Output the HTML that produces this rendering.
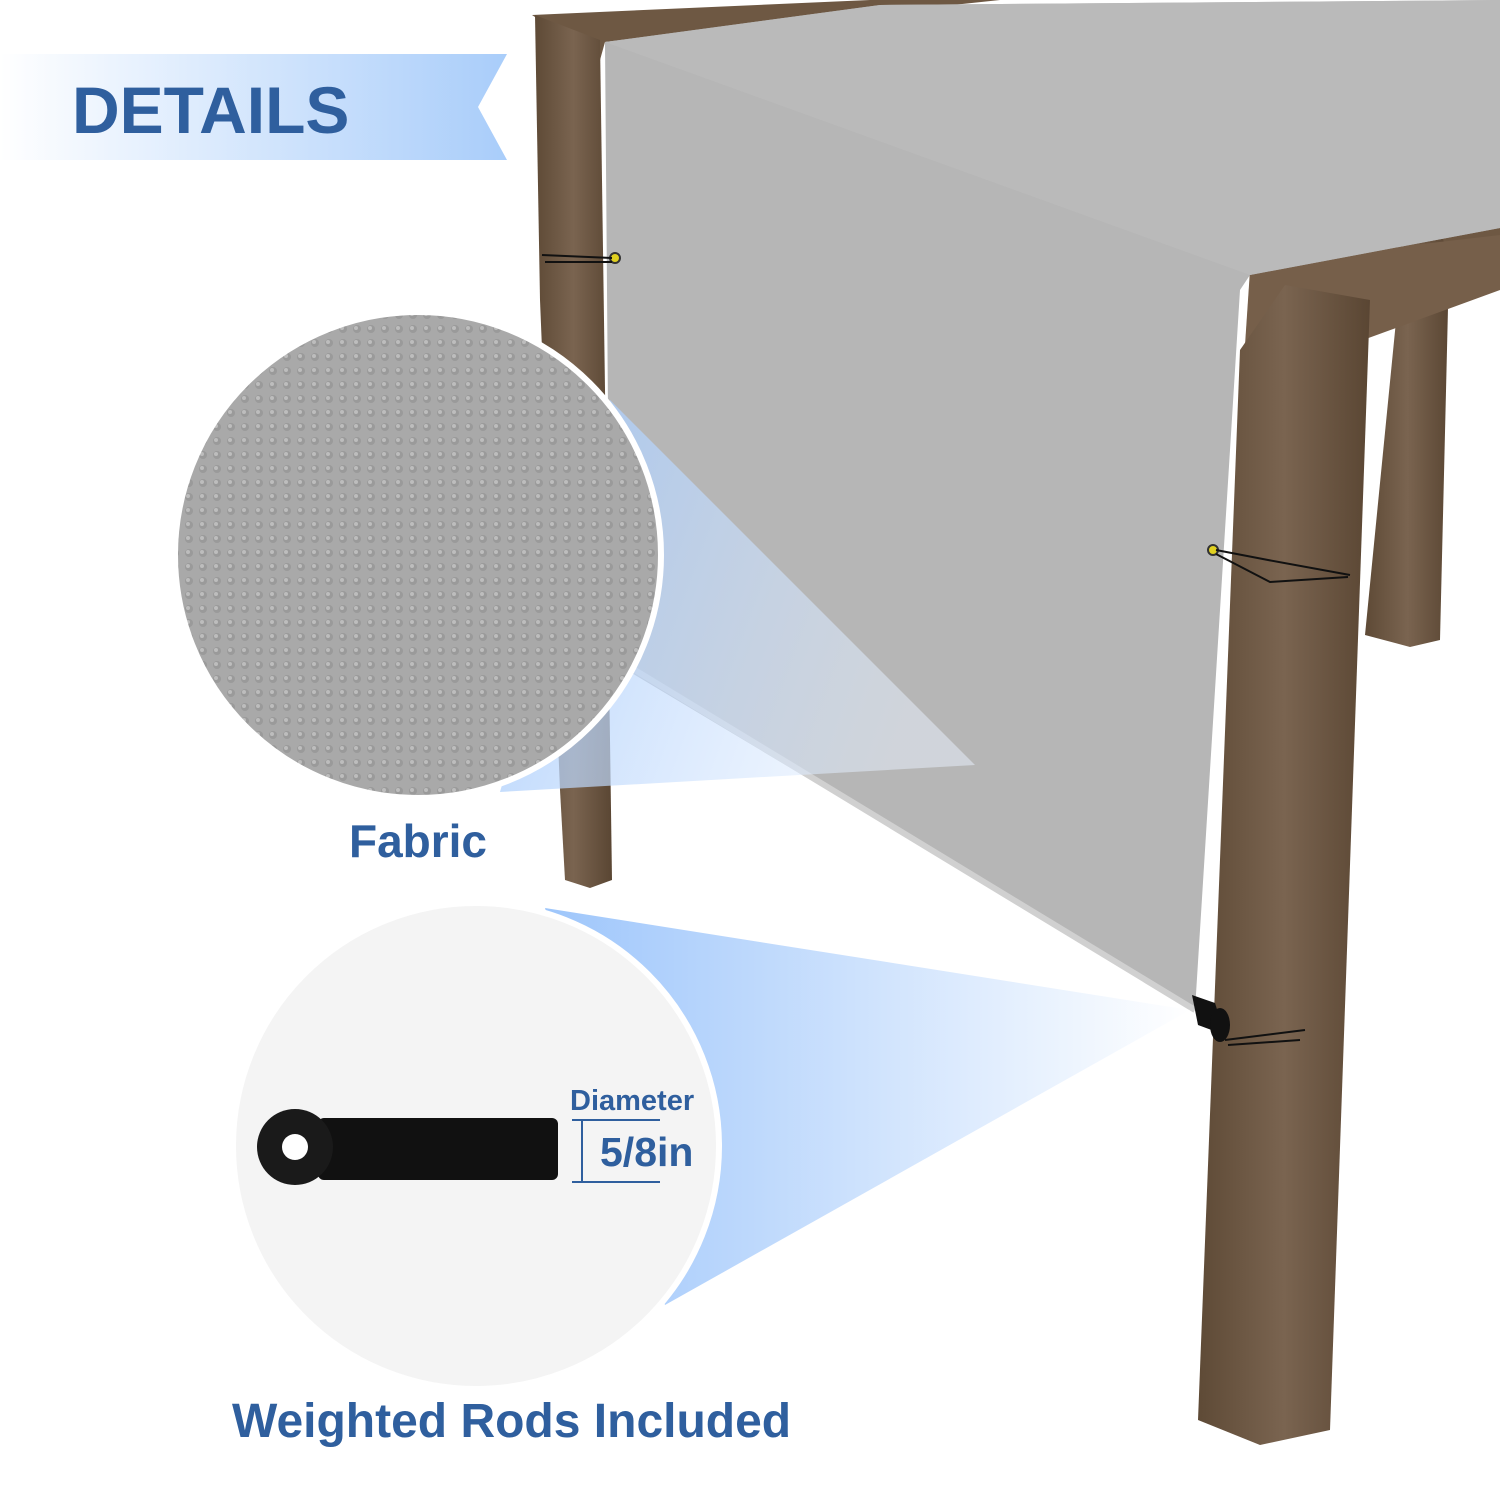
<!DOCTYPE html>
<html><head><meta charset="utf-8"><style>
html,body{margin:0;padding:0;background:#fff;width:1500px;height:1500px;overflow:hidden}
</style></head><body>
<svg width="1500" height="1500" viewBox="0 0 1500 1500" xmlns="http://www.w3.org/2000/svg">
<defs>
<linearGradient id="ban" x1="0" x2="1" y1="0" y2="0"><stop offset="0" stop-color="#ffffff"/><stop offset="1" stop-color="#a9cdfa"/></linearGradient>
<linearGradient id="beam1" x1="0" x2="1" y1="0" y2="0.3"><stop offset="0" stop-color="#9ec6fb"/><stop offset="1" stop-color="#e8f1fe" stop-opacity="0.6"/></linearGradient>
<linearGradient id="beam2" x1="0" x2="1" y1="0" y2="0"><stop offset="0" stop-color="#9ec6fb"/><stop offset="1" stop-color="#ffffff"/></linearGradient>
<linearGradient id="wood" x1="0" x2="1"><stop offset="0" stop-color="#5e4a36"/><stop offset="0.5" stop-color="#7a6450"/><stop offset="1" stop-color="#5a4633"/></linearGradient>
<pattern id="weave" width="14" height="14" patternUnits="userSpaceOnUse">
<rect width="14" height="14" fill="#a9a9a9"/><circle cx="7" cy="7" r="4" fill="#9a9a9a"/><circle cx="6" cy="6" r="2" fill="#bdbdbd"/>
</pattern>
</defs>
<rect width="1500" height="1500" fill="#fff"/>
<polygon points="0,54 507,54 478,107 507,160 0,160" fill="url(#ban)"/>
<text x="72" y="133" font-family="Liberation Sans, sans-serif" font-weight="bold" font-size="66" fill="#2f5f9e">DETAILS</text>
<polygon points="532,15 870,0 1000,0 605,42 600,60" fill="#6e5843"/>
<polygon points="535,15 600,40 612,880 590,888 565,880 560,790 540,300" fill="url(#wood)"/>
<polygon points="1405,230 1450,225 1440,640 1410,647 1365,635" fill="url(#wood)"/>
<polygon points="1440,225 1500,215 1500,245 1445,248" fill="#6e5843"/>
<polygon points="1250,270 1300,258 1500,235 1500,290 1330,352 1245,345" fill="#765f4a"/>
<polygon points="1285,285 1370,300 1330,1430 1260,1445 1198,1420 1240,350" fill="url(#wood)"/>
<polygon points="605,42 880,5 1500,0 1500,228 1250,275 1240,290 1195,1010 610,660" fill="#b6b6b6"/>
<polygon points="605,42 880,5 1500,0 1500,228 1250,275" fill="#bababa"/>
<line x1="610" y1="655" x2="1195" y2="1010" stroke="#d0d0d0" stroke-width="6"/>
<circle cx="615" cy="258" r="5" fill="#e0d020" stroke="#333" stroke-width="2"/>
<path d="M542,255 L612,258 M545,262 L612,262" stroke="#111" stroke-width="2"/>
<circle cx="1213" cy="550" r="5" fill="#e0d020" stroke="#333" stroke-width="2"/>
<path d="M1216,550 L1268,560 L1350,575 M1216,554 L1270,582 L1348,577" stroke="#111" stroke-width="2" fill="none"/>
<polygon points="1192,995 1215,1003 1225,1035 1198,1025" fill="#111"/>
<ellipse cx="1220" cy="1025" rx="10" ry="17" fill="#111"/>
<path d="M1225,1040 L1305,1030 M1228,1045 L1300,1040" stroke="#111" stroke-width="2"/>
<polygon points="610,400 975,765 500,792" fill="url(#beam1)" opacity="0.85"/>
<polygon points="545,908 1190,1010 665,1305" fill="url(#beam2)"/>
<circle cx="418" cy="555" r="243" fill="url(#weave)" stroke="#fff" stroke-width="6"/>
<text x="418" y="857" text-anchor="middle" font-family="Liberation Sans, sans-serif" font-weight="bold" font-size="46" fill="#2f5f9e">Fabric</text>
<circle cx="476" cy="1146" r="243" fill="#f4f4f4" stroke="#fff" stroke-width="6"/>
<rect x="318" y="1118" width="240" height="62" rx="6" fill="#111"/>
<circle cx="295" cy="1147" r="38" fill="#1a1a1a"/>
<circle cx="295" cy="1147" r="13" fill="#fff"/>
<text x="570" y="1110" font-family="Liberation Sans, sans-serif" font-weight="bold" font-size="29" fill="#2f5f9e">Diameter</text>
<path d="M572,1120 L660,1120 M582,1120 L582,1181 M572,1182 L660,1182" stroke="#2f5f9e" stroke-width="2"/>
<text x="600" y="1166" font-family="Liberation Sans, sans-serif" font-weight="bold" font-size="41" fill="#2f5f9e">5/8in</text>
<text x="232" y="1437" font-family="Liberation Sans, sans-serif" font-weight="bold" font-size="48" fill="#2f5f9e">Weighted Rods Included</text>
</svg>
</body></html>
